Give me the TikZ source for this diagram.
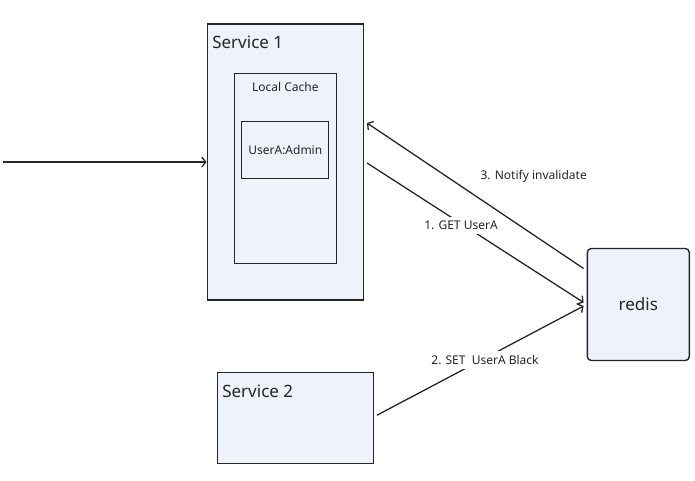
\documentclass[tikz,border=0pt]{standalone}
\usepackage{fontspec}
\setmainfont{Noto Sans}
\usepackage{tikz}
\usetikzlibrary{arrows.meta}
\definecolor{boxfill}{HTML}{EEF2FB}
\definecolor{ink}{HTML}{262626}

\begin{document}
\begin{tikzpicture}[x=1pt, y=-1pt, every node/.style={text=ink, font=\fontsize{12}{14}\selectfont},
  >={Straight Barb[length=4pt, width=10pt]},
  box/.style={draw=ink, fill=boxfill, line width=1.4pt, inner sep=0pt},
  title/.style={anchor=north west, inner sep=0pt, font=\fontsize{17}{20}\selectfont},
  link/.style={draw=ink, line width=1.3pt, ->},
  tag/.style={fill=white, inner sep=4pt}]
	\useasboundingbox (0,0) rectangle (695,480);
	\node[box, minimum width=156pt, minimum height=276pt] (svc1) at (285.3,162) {};
	\node[title] (svc1lbl) at ([xshift=5.5pt, yshift=-12pt]svc1.north west) {Service 1};
	\node[box, line width=1.2pt, minimum width=102pt, minimum height=190pt] (cache) at (285.3,168.3) {};
	\node[anchor=north, inner sep=0pt] (cachelbl) at ([yshift=-9.5pt]cache.north) {Local Cache};
	\node[box, line width=1.2pt, minimum width=87pt, minimum height=57pt] (entry) at (285.3,150) {UserA:Admin};
	\node[box, minimum width=156pt, minimum height=91pt] (svc2) at (295.3,417.7) {};
	\node[title] (svc2lbl) at ([xshift=5.5pt, yshift=-13pt]svc2.north west) {Service 2};
	\node[box, rounded corners=4pt, minimum width=102pt, minimum height=112pt, font=\fontsize{17}{20}\selectfont] (redis) at (638.3,304.5) {redis};
	\coordinate (client) at (3,162);
	% requests and invalidation
	\draw[link] (client) -- (svc1.west);
	\draw[link] ([xshift=-3pt, yshift=36pt]redis.west) -- ([xshift=3pt, yshift=39pt]svc1.east);
	\draw[link] ([xshift=3pt, yshift=-1pt]svc1.east) -- ([xshift=-3pt, yshift=2pt]redis.west);
	\draw[link] ([xshift=3pt, yshift=2.5pt]svc2.east) -- ([xshift=-3pt, yshift=-1.5pt]redis.west);
	\node (notify) at (533.7,176) {3. Notify invalidate};
	\node[tag] (get) at (461,225.5) {1. GET UserA};
	\node[tag] (set) at (485,360) {2. SET\ \ UserA Black};
\end{tikzpicture}
\end{document}
